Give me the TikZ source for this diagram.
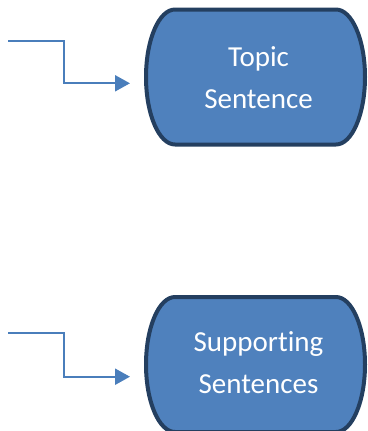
\documentclass[tikz,border=0pt]{standalone}
\usepackage{fontspec}
\setmainfont{Carlito}[RawFeature=-liga]
\usetikzlibrary{arrows.meta}
\definecolor{boxfill}{HTML}{4F81BD}
\definecolor{boxline}{HTML}{243F60}
\definecolor{connc}{HTML}{4A7EBB}
\begin{document}
\begin{tikzpicture}[x=1pt,y=-1pt,
  termbox/.style={draw=boxline, fill=boxfill, line width=4pt},
  termtext/.style={text=white, font=\fontsize{29}{42}\selectfont, align=center, inner sep=0pt},
  conn/.style={draw=connc, line width=2.2pt, -{Triangle[length=15pt,width=16pt]}}]
\useasboundingbox (0,0) rectangle (367,431);
% Topic Sentence box
\draw[termbox] (175,9.5) -- (336,9.5)
  arc[start angle=-90,end angle=90,x radius=29,y radius=67.5]
  -- (175,144.5)
  arc[start angle=90,end angle=270,x radius=29,y radius=67.5] -- cycle;
\node[termtext] (t1) at (258.5,77.6) {Topic\\Sentence};
% Supporting Sentences box
\draw[termbox] (175,297) -- (336,297)
  arc[start angle=-90,end angle=90,x radius=29,y radius=67.5]
  -- (175,432)
  arc[start angle=90,end angle=270,x radius=29,y radius=67.5] -- cycle;
\node[termtext] (t2) at (258.5,362.5) {Supporting\\Sentences};
% connectors
\coordinate (s1) at (8,41.3);
\coordinate (e1) at (130,83.3);
\draw[conn] (s1) -- (64,41.3) |- (e1);
\coordinate (s2) at (8,333.3);
\coordinate (e2) at (130,376.7);
\draw[conn] (s2) -- (64,333.3) |- (e2);
\end{tikzpicture}
\end{document}
